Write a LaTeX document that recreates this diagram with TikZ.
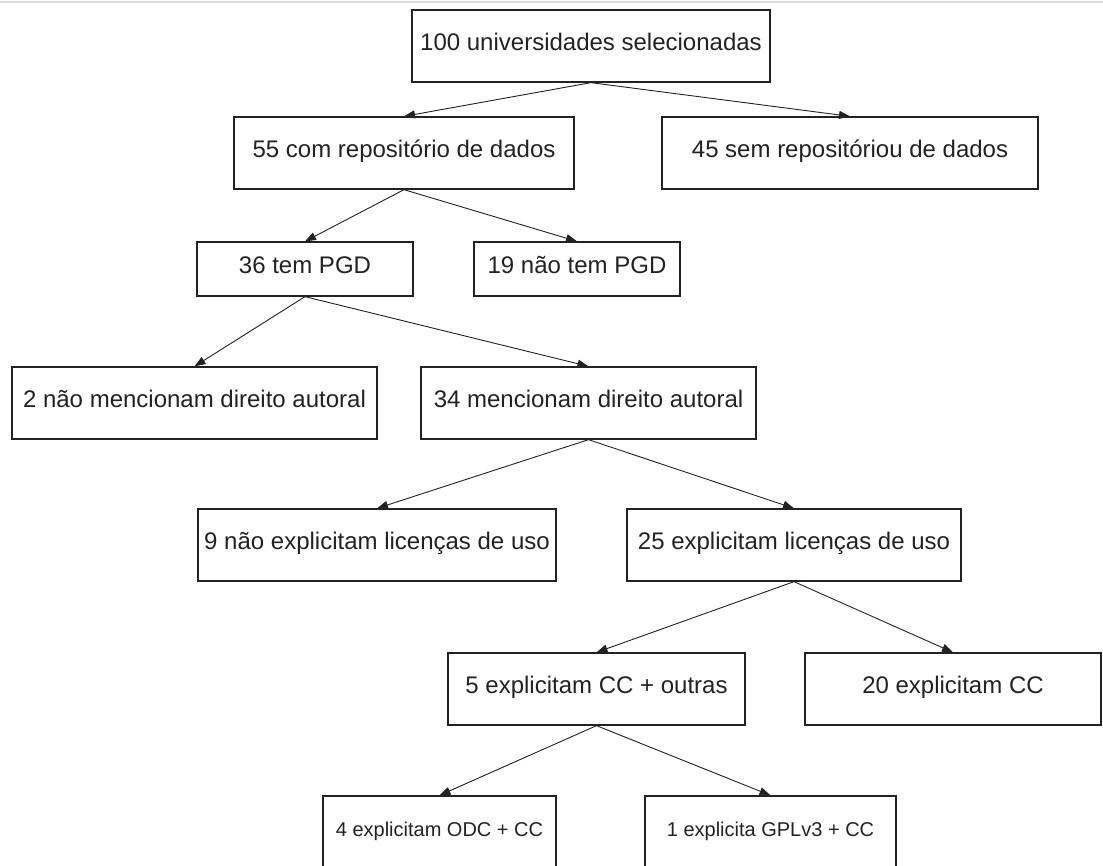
\documentclass[tikz,border=0pt]{standalone}
\usepackage{fontspec}
\setmainfont{Liberation Sans}
\usetikzlibrary{arrows.meta}
\definecolor{ink}{HTML}{222222}
\definecolor{topbar}{HTML}{DADADA}
\tikzset{
  box/.style={draw=ink, line width=1.3pt, fill=white, inner sep=0pt, text=ink,
    font=\fontsize{24}{28}\selectfont, text height=17pt, text depth=8pt},
  smallbox/.style={box, font=\fontsize{20}{24}\selectfont, text height=14.3pt, text depth=7pt},
  arr/.style={draw=ink, line width=0.9pt, -{Triangle[length=11pt,width=8pt]}}
}
\begin{document}
\begin{tikzpicture}[x=1pt,y=-1pt]
\useasboundingbox (0,0) rectangle (1103,865);
\clip (0,0) rectangle (1103,865);
\fill[white] (0,0) rectangle (1103,865);
\fill[topbar] (0,0.5) rectangle (1103,3.2);
% row 1
\node[box, minimum width=358pt, minimum height=72pt] (top) at (591,46) {100 universidades selecionadas};
% row 2
\node[box, minimum width=340pt, minimum height=72pt] (com) at (404,153) {55 com repositório de dados};
\node[box, minimum width=376pt, minimum height=72pt] (sem) at (850,153) {45 sem repositóriou de dados};
% row 3
\node[box, minimum width=216pt, minimum height=54pt] (tem) at (305,269) {36 tem PGD};
\node[box, minimum width=206pt, minimum height=54pt] (naotem) at (577,269) {19 não tem PGD};
% row 4
\node[box, minimum width=365pt, minimum height=72pt] (naomenc) at (194.5,403) {2 não mencionam direito autoral};
\node[box, minimum width=335pt, minimum height=72pt] (menc) at (588.5,403) {34 mencionam direito autoral};
% row 5
\node[box, minimum width=358pt, minimum height=72pt] (naoexp) at (377,545) {9 não explicitam licenças de uso};
\node[box, minimum width=334pt, minimum height=72pt] (exp) at (794,545) {25 explicitam licenças de uso};
% row 6
\node[box, minimum width=297pt, minimum height=72pt] (ccout) at (596.5,689) {5 explicitam CC + outras};
\node[box, minimum width=296pt, minimum height=72pt] (cc) at (953,689) {20 explicitam CC};
% row 7
\node[smallbox, minimum width=233pt, minimum height=74pt] (odc) at (439.5,833) {4 explicitam ODC + CC};
\node[smallbox, minimum width=251pt, minimum height=74pt] (gpl) at (770.5,833) {1 explicita GPLv3 + CC};
% connectors
\draw[arr] (top.south) -- (com.north);
\draw[arr] (top.south) -- (sem.north);
\draw[arr] (com.south) -- (tem.north);
\draw[arr] (com.south) -- (naotem.north);
\draw[arr] (tem.south) -- (naomenc.north);
\draw[arr] (tem.south) -- (menc.north);
\draw[arr] (menc.south) -- (naoexp.north);
\draw[arr] (menc.south) -- (exp.north);
\draw[arr] (exp.south) -- (ccout.north);
\draw[arr] (exp.south) -- (cc.north);
\draw[arr] (ccout.south) -- (odc.north);
\draw[arr] (ccout.south) -- (gpl.north);
\end{tikzpicture}
\end{document}
